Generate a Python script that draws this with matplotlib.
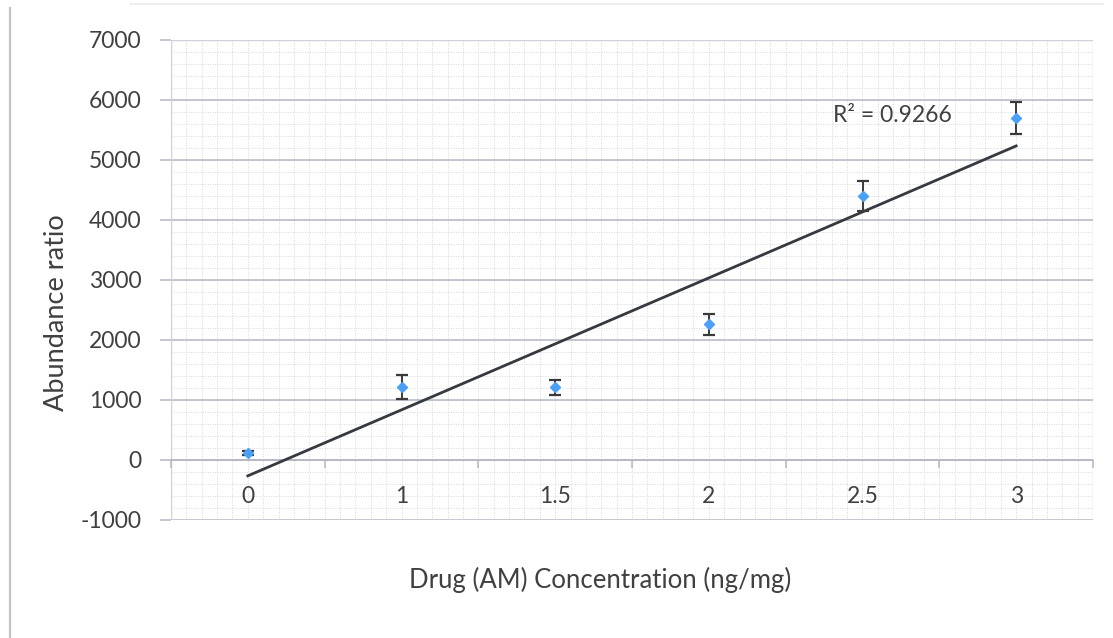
import matplotlib
matplotlib.use("Agg")
import matplotlib.pyplot as plt
from matplotlib.patches import Rectangle
from matplotlib.lines import Line2D
import numpy as np

# Data
concentrations = ["0", "1", "1.5", "2", "2.5", "3"]
abundance = [120, 1220, 1210, 2260, 4400, 5700]
abundance_err = [30, 200, 120, 180, 250, 270]
r2_label = "R\u00b2 = 0.9266"
y_ticks = [-1000, 0, 1000, 2000, 3000, 4000, 5000, 6000, 7000]

plt.rcParams["font.family"] = ["Lato", "DejaVu Sans"]
text_col = "#404040"
grid_col = "#b4b6c4"

W, H = 1113, 638
fig = plt.figure(figsize=(W / 100, H / 100), dpi=100)
fig.patch.set_facecolor("white")

ax = fig.add_axes([171 / W, 1 - 520 / H, (1093 - 171) / W, (520 - 40) / H])
pos = np.arange(len(concentrations))
ax.set_xlim(-0.5, len(concentrations) - 0.5)
ax.set_ylim(-1000, 7000)

# minor grid (dotted)
for xv in np.arange(-0.5, len(concentrations) - 0.5, 0.1):
    ax.axvline(xv, color="#d6d8e0", lw=0.7, ls=(0, (1, 1.5)), zorder=0)
for yv in np.arange(-1000, 7001, 200):
    ax.axhline(yv, color="#d6d8e0", lw=0.7, ls=(0, (1, 1.5)), zorder=0)
# major horizontal grid
for yv in y_ticks:
    ax.axhline(yv, color=grid_col, lw=1.1, zorder=1)

for s in ["top", "right", "left"]:
    ax.spines[s].set_visible(False)
ax.spines["bottom"].set_position(("data", 0))
ax.spines["bottom"].set_color(grid_col)
ax.spines["bottom"].set_linewidth(1.1)

# plot-area border
ax.add_patch(Rectangle((0, 0), 1, 1, transform=ax.transAxes, fill=False,
                       edgecolor="#cfd1da", lw=1.0, zorder=1))

# x axis: ticks at category boundaries, labels at centres
ax.set_xticks(np.arange(-0.5, len(concentrations), 1.0))
ax.set_xticklabels([])
ax.tick_params(axis="x", which="major", direction="out", length=6,
               color=grid_col, width=1.1)
ax.set_xticks(pos, minor=True)
ax.set_xticklabels(concentrations, minor=True)
ax.tick_params(axis="x", which="minor", length=0, pad=19, labelsize=16.5,
               labelcolor=text_col)

ax.set_yticks(y_ticks)
ax.set_yticklabels([str(v) for v in y_ticks])
ax.tick_params(axis="y", direction="out", length=8, color=grid_col, width=1.1,
               pad=13, labelsize=16.5, labelcolor=text_col)

# data with error bars
ax.errorbar(pos, abundance, yerr=abundance_err, fmt="D", color="#4aa0f5",
            ms=5, mec="#4aa0f5", ecolor="#3a3a3a", elinewidth=1.4,
            capsize=4.5, capthick=1.6, zorder=4)

# linear trendline over category position
slope, intercept = np.polyfit(pos, abundance, 1)
ax.plot([pos[0], pos[-1]], [intercept + slope * pos[0], intercept + slope * pos[-1]],
        color="#363a40", lw=2.0, zorder=3)

ax.text(3.81, 5750, r2_label, fontsize=16.5, color=text_col, ha="left", va="center")

fig.text(57 / W, 1 - 313 / H, "Abundance ratio", rotation=90, fontsize=19.5,
         color=text_col, ha="center", va="center")
fig.text(600 / W, 1 - 580 / H, "Drug (AM) Concentration (ng/mg)", fontsize=18.5,
         color=text_col, ha="center", va="center")

# outer chart frame
fig.add_artist(Line2D([10 / W, 10 / W], [0, 1 - 8 / H], transform=fig.transFigure,
                      color="#c4c4c4", lw=1.6))
fig.add_artist(Line2D([130 / W, 1 - 10 / W], [1 - 4 / H, 1 - 4 / H],
                      transform=fig.transFigure, color="#ececec", lw=1.2))

fig.savefig("out.png", dpi=100)
